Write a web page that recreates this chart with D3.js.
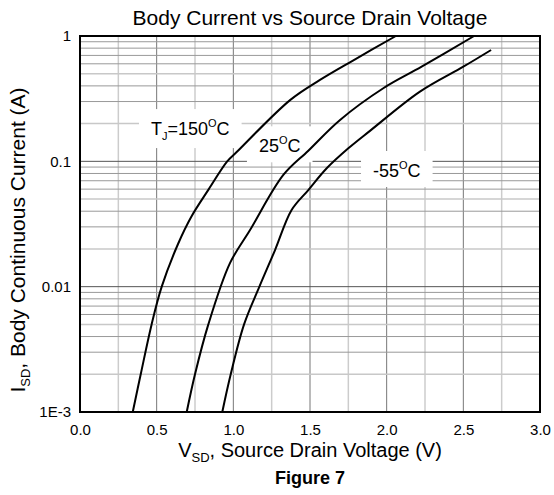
<!DOCTYPE html>
<html>
<head>
<meta charset="utf-8">
<script src="https://cdn.jsdelivr.net/npm/d3@7"></script>
<style>
  body { margin: 0; background: #fff; }
  svg text { font-family: "Liberation Sans", Arial, sans-serif; fill: #000; }
</style>
</head>
<body>
<svg id="chart" width="554" height="495"></svg>
<script>
// data (V_SD in volts, I_SD in amps)
const v150 = [0.344, 0.396, 0.467, 0.533, 0.64, 0.725, 0.84, 0.96, 1.02, 1.37, 1.565, 1.783, 2.06];
const i150 = [0.001, 0.002, 0.005, 0.01, 0.022, 0.036, 0.06, 0.1, 0.118, 0.308, 0.446, 0.64, 1.0];

const v25 = [0.696, 0.750, 0.837, 0.978, 1.109, 1.326, 1.489, 1.696, 1.978, 2.228, 2.57];
const i25 = [0.001, 0.002, 0.005, 0.0154, 0.0283, 0.0778, 0.1216, 0.214, 0.383, 0.569, 1.0];

const v55 = [0.928, 0.983, 1.07, 1.170, 1.272, 1.380, 1.489, 1.609, 1.750, 1.891, 2.217, 2.5, 2.681];
const i55 = [0.001, 0.002, 0.005, 0.01, 0.0196, 0.0409, 0.059, 0.088, 0.127, 0.175, 0.36, 0.569, 0.773];

const xTicks = [0, 0.5, 1.0, 1.5, 2.0, 2.5, 3.0];
const yTicks = [0.001, 0.01, 0.1, 1];
const yTickLabels = ["1E-3", "0.01", "0.1", "1"];

const svg = d3.select("#chart");

const margin = { top: 36, right: 14, bottom: 83, left: 80 };
const W = 554, H = 495;

const x = d3.scaleLinear().domain([0, 3]).range([margin.left, W - margin.right]);
const y = d3.scaleLog().domain([0.001, 1]).range([H - margin.bottom, margin.top]);

// grid
const grid = svg.append("g");
d3.range(1, 12).map(k => k * 0.25).forEach(v => {
  const major = Math.abs(v * 2 - Math.round(v * 2)) < 1e-9;
  grid.append("line")
    .attr("x1", x(v)).attr("x2", x(v))
    .attr("y1", y(1)).attr("y2", y(0.001))
    .attr("stroke", major ? "#777" : "#ccc")
    .attr("stroke-width", major ? 1 : 1.5);
});
[0.001, 0.01, 0.1].forEach(dec => {
  d3.range(1, 10).forEach(k => {
    const val = k * dec;
    if (val <= 0.001) return;
    grid.append("line")
      .attr("x1", x(0)).attr("x2", x(3))
      .attr("y1", y(val)).attr("y2", y(val))
      .attr("stroke", k === 1 ? "#555" : (k === 2 || k === 5 ? "#c8c8c8" : "#999"))
      .attr("stroke-width", k === 2 || k === 5 ? 1.5 : 1);
  });
});

// curve labels (white boxes knock out the grid)
const labels = [
  { v: 0.463, i: 0.162, parts: [["T", 0], ["J", -1], ["=150", 0], ["O", 1], ["C", 0]] },
  { v: 1.167, i: 0.118, parts: [["25", 0], ["O", 1], ["C", 0]] },
  { v: 1.911, i: 0.075, parts: [["-55", 0], ["O", 1], ["C", 0]] }
];
const labG = svg.append("g");
labels.forEach(l => {
  const g = labG.append("g");
  const rect = g.append("rect").attr("fill", "#fff");
  const t = g.append("text")
    .attr("x", x(l.v)).attr("y", y(l.i))
    .attr("font-size", 18);
  l.parts.forEach((p, idx) => {
    const prev = idx > 0 ? l.parts[idx - 1][1] : 0;
    let dy = 0;
    if (prev === 1) dy += 8;
    if (prev === -1) dy -= 5;
    if (p[1] === 1) dy -= 8;
    if (p[1] === -1) dy += 5;
    const ts = t.append("tspan").text(p[0]);
    if (p[1] !== 0) ts.attr("font-size", 11);
    if (dy) ts.attr("dy", dy);
  });
  const bb = t.node().getBBox();
  rect.attr("x", bb.x - 12).attr("y", bb.y - 8)
    .attr("width", bb.width + 24).attr("height", bb.height + 14);
});

// curves
const line = d3.line()
  .x(d => x(d[0]))
  .y(d => y(d[1]))
  .curve(d3.curveCatmullRom.alpha(0.5));

const series = [
  d3.zip(v150, i150),
  d3.zip(v25, i25),
  d3.zip(v55, i55)
];
svg.append("g").selectAll("path")
  .data(series)
  .enter().append("path")
  .attr("d", line)
  .attr("fill", "none")
  .attr("stroke", "#000")
  .attr("stroke-width", 2);

// frame
svg.append("rect")
  .attr("x", x(0)).attr("y", y(1))
  .attr("width", x(3) - x(0)).attr("height", y(0.001) - y(1))
  .attr("fill", "none").attr("stroke", "#000").attr("stroke-width", 2);

// axes (labels only)
const xAxis = svg.append("g")
  .attr("transform", `translate(0,${y(0.001)})`)
  .call(d3.axisBottom(x).tickValues(xTicks).tickSize(0).tickPadding(12).tickFormat(d3.format(".1f")));
xAxis.select(".domain").remove();
xAxis.selectAll("text").attr("font-size", 15).attr("font-family", "Liberation Sans, Arial, sans-serif").attr("fill", "#000");

const yAxis = svg.append("g")
  .attr("transform", `translate(${x(0)},0)`)
  .call(d3.axisLeft(y).tickValues(yTicks).tickSize(0).tickPadding(9).tickFormat((d, i) => yTickLabels[i]));
yAxis.select(".domain").remove();
yAxis.selectAll("text").attr("font-size", 15).attr("font-family", "Liberation Sans, Arial, sans-serif").attr("fill", "#000");

// titles
svg.append("text")
  .attr("x", (x(0) + x(3)) / 2).attr("y", 25)
  .attr("text-anchor", "middle").attr("font-size", 21)
  .text("Body Current vs Source Drain Voltage");

const xl = svg.append("text")
  .attr("x", (x(0) + x(3)) / 2).attr("y", 457)
  .attr("text-anchor", "middle").attr("font-size", 20);
xl.append("tspan").text("V");
xl.append("tspan").attr("font-size", 13).attr("dy", 5).text("SD");
xl.append("tspan").attr("dy", -5).text(", Source Drain Voltage (V)");

svg.append("text")
  .attr("x", (x(0) + x(3)) / 2).attr("y", 484)
  .attr("text-anchor", "middle").attr("font-size", 18).attr("font-weight", "bold")
  .text("Figure 7");

const yl = svg.append("text")
  .attr("transform", "translate(25,240) rotate(-90)")
  .attr("text-anchor", "middle").attr("font-size", 21);
yl.append("tspan").text("I");
yl.append("tspan").attr("font-size", 13).attr("dy", 5).text("SD");
yl.append("tspan").attr("dy", -5).text(", Body Continuous Current (A)");
</script>
</body>
</html>
